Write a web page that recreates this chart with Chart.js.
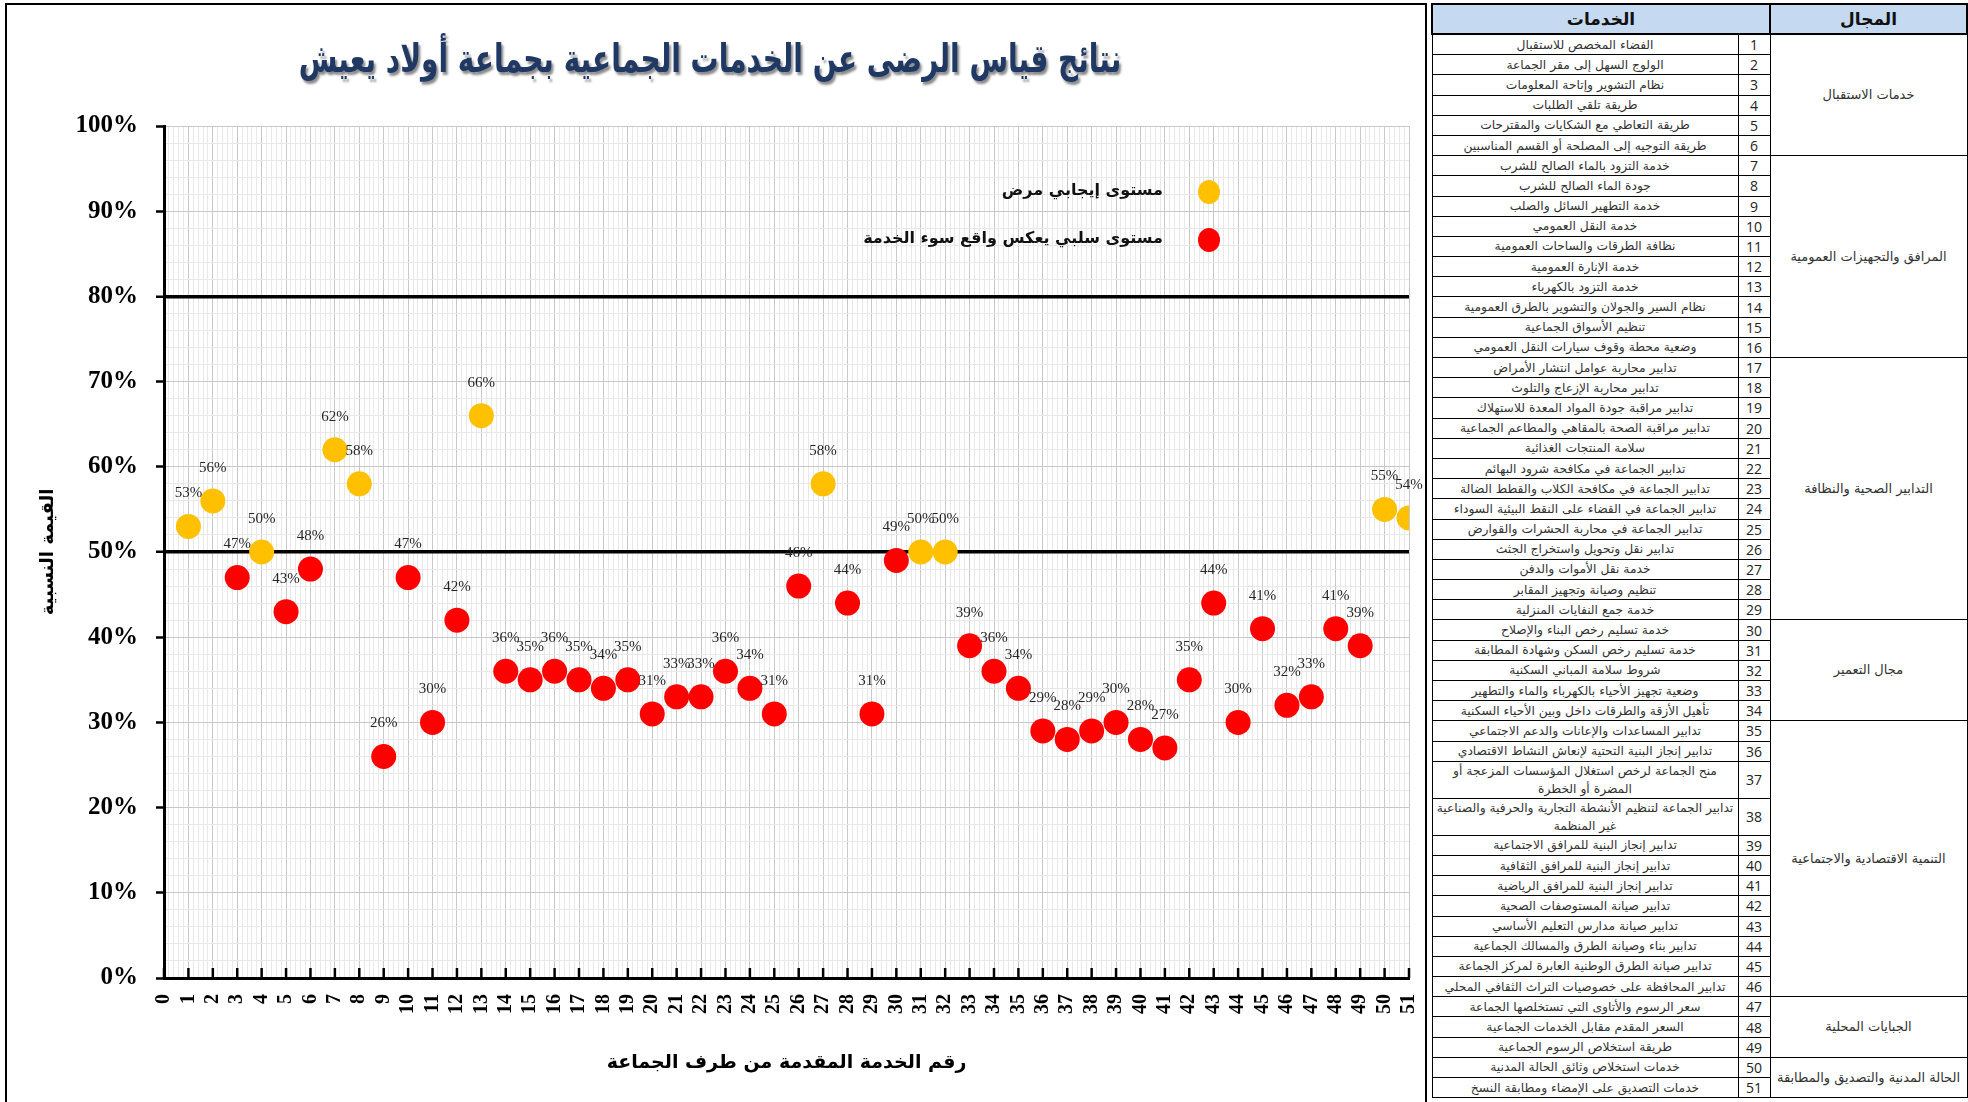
<!DOCTYPE html>
<html lang="ar">
<head>
<meta charset="utf-8">
<script src="https://cdn.jsdelivr.net/npm/chart.js@4.4.1/dist/chart.umd.min.js"></script>
<style>
  html, body { margin: 0; padding: 0; background: #fff; }
  body { width: 1968px; height: 1102px; position: relative; overflow: hidden; font-family: "DejaVu Sans", sans-serif; }
  #frame { position: absolute; left: 5px; top: 3px; width: 1422px; height: 1110px; border: 2px solid #000; box-sizing: border-box; }
  #chartBox { position: absolute; left: 0; top: 0; width: 1449px; height: 1102px; }
  #title { position: absolute; left: 160px; width: 1100px; top: 42px; text-align: center; direction: rtl; white-space: nowrap;
    font: bold 28px "DejaVu Sans", sans-serif; color: #1F3864; text-shadow: 2px 2px 2px #8a8a8a; transform: scaleY(1.4); }
  .leg { position: absolute; direction: rtl; font: bold 16px "DejaVu Sans", sans-serif; color: #111; white-space: nowrap; }
  .dot { position: absolute; width: 22px; height: 24px; border-radius: 50%; }
  #table { position: absolute; left: 1431px; top: 3px; width: 535px; border-collapse: collapse; table-layout: fixed; direction: rtl; z-index: 2; background: #fff; }
  #table th { background: #C5D9F1; font: bold 17px "DejaVu Sans", sans-serif; height: 28px; border: 2px solid #000; padding: 0; color: #111; }
  #table td { border: 1px solid #000; padding: 0 2px; text-align: center; height: 19.2px; line-height: 18px; color: #333; }
  #table td.svc { font-size: 12.3px; }
  #table td.num { font: 14px "Open Sans", sans-serif; color: #222; }
  #table td.dom { font-size: 13px; background: #fff; }
</style>
</head>
<body>
<div id="frame"></div>
<div id="chartBox"><canvas id="chart"></canvas></div>
<div id="title">نتائج قياس الرضى عن الخدمات الجماعية بجماعة أولاد يعيش</div>
<div id="legend"></div>
<table id="table"></table>

<script>
// VALUES (percent) FOR SERVICES 1..51
const serviceNumbers = [1,2,3,4,5,6,7,8,9,10,11,12,13,14,15,16,17,18,19,20,21,22,23,24,25,26,
  27,28,29,30,31,32,33,34,35,36,37,38,39,40,41,42,43,44,45,46,47,48,49,50,51];
const satisfaction = [53,56,47,50,43,48,62,58,26,47,30,42,66,36,35,36,35,34,35,31,33,33,36,34,31,46,
  58,44,31,49,50,50,39,36,34,29,28,29,30,28,27,35,44,30,41,32,33,41,39,55,54];
const threshold = 50;
const seriesNames = ['مستوى إيجابي مرض', 'مستوى سلبي يعكس واقع سوء الخدمة'];
const seriesColors = ['#FFC000', '#FF0000'];
const xTitle = 'رقم الخدمة المقدمة من طرف الجماعة';
const yTitle = 'القيمة النسبية';
const refLines = [50, 80];

// TABLE DATA
const domainNames = ['خدمات الاستقبال', 'المرافق والتجهيزات العمومية', 'التدابير الصحية والنظافة',
  'مجال التعمير', 'التنمية الاقتصادية والاجتماعية', 'الجبايات المحلية', 'الحالة المدنية والتصديق والمطابقة'];
const domainSizes = [6, 10, 13, 5, 12, 3, 2];
const services = [
  'الفضاء المخصص للاستقبال',
  'الولوج السهل إلى مقر الجماعة',
  'نظام التشوير وإتاحة المعلومات',
  'طريقة تلقي الطلبات',
  'طريقة التعاطي مع الشكايات والمقترحات',
  'طريقة التوجيه إلى المصلحة أو القسم المناسبين',
  'خدمة التزود بالماء الصالح للشرب',
  'جودة الماء الصالح للشرب',
  'خدمة التطهير السائل والصلب',
  'خدمة النقل العمومي',
  'نظافة الطرقات والساحات العمومية',
  'خدمة الإنارة العمومية',
  'خدمة التزود بالكهرباء',
  'نظام السير والجولان والتشوير بالطرق العمومية',
  'تنظيم الأسواق الجماعية',
  'وضعية محطة وقوف سيارات النقل العمومي',
  'تدابير محاربة عوامل انتشار الأمراض',
  'تدابير محاربة الإزعاج والتلوث',
  'تدابير مراقبة جودة المواد المعدة للاستهلاك',
  'تدابير مراقبة الصحة بالمقاهي والمطاعم الجماعية',
  'سلامة المنتجات الغذائية',
  'تدابير الجماعة في مكافحة شرود البهائم',
  'تدابير الجماعة في مكافحة الكلاب والقطط الضالة',
  'تدابير الجماعة في القضاء على النقط البيئية السوداء',
  'تدابير الجماعة في محاربة الحشرات والقوارض',
  'تدابير نقل وتحويل واستخراج الجثث',
  'خدمة نقل الأموات والدفن',
  'تنظيم وصيانة وتجهيز المقابر',
  'خدمة جمع النفايات المنزلية',
  'خدمة تسليم رخص البناء والإصلاح',
  'خدمة تسليم رخص السكن وشهادة المطابقة',
  'شروط سلامة المباني السكنية',
  'وضعية تجهيز الأحياء بالكهرباء والماء والتطهير',
  'تأهيل الأزقة والطرقات داخل وبين الأحياء السكنية',
  'تدابير المساعدات والإعانات والدعم الاجتماعي',
  'تدابير إنجاز البنية التحتية لإنعاش النشاط الاقتصادي',
  'منح الجماعة لرخص استغلال المؤسسات المزعجة أو المضرة أو الخطرة',
  'تدابير الجماعة لتنظيم الأنشطة التجارية والحرفية والصناعية غير المنظمة',
  'تدابير إنجاز البنية للمرافق الاجتماعية',
  'تدابير إنجاز البنية للمرافق الثقافية',
  'تدابير إنجاز البنية للمرافق الرياضية',
  'تدابير صيانة المستوصفات الصحية',
  'تدابير صيانة مدارس التعليم الأساسي',
  'تدابير بناء وصيانة الطرق والمسالك الجماعية',
  'تدابير صيانة الطرق الوطنية العابرة لمركز الجماعة',
  'تدابير المحافظة على خصوصيات التراث الثقافي المحلي',
  'سعر الرسوم والأتاوى التي تستخلصها الجماعة',
  'السعر المقدم مقابل الخدمات الجماعية',
  'طريقة استخلاص الرسوم الجماعية',
  'خدمات استخلاص وثائق الحالة المدنية',
  'خدمات التصديق على الإمضاء ومطابقة النسخ'
];

//BUILD THE TABLE
function buildTable() {
  const table = document.getElementById('table');
  let html = '<colgroup><col style="width:197px"><col style="width:32px"><col style="width:306px"></colgroup>';
  html += '<tr><th>المجال</th><th colspan="2">الخدمات</th></tr>';
  let starts = {};
  let acc = 0;
  domainSizes.forEach((n, k) => { starts[acc] = k; acc += n; });
  services.forEach((name, i) => {
    html += '<tr>';
    if (starts[i] !== undefined) {
      const k = starts[i];
      html += `<td class="dom" rowspan="${domainSizes[k]}">${domainNames[k]}</td>`;
    }
    html += `<td class="num">${serviceNumbers[i]}</td><td class="svc">${name}</td></tr>`;
  });
  table.innerHTML = html;
}

//BUILD THE LEGEND BOX
function buildLegend() {
  const box = document.getElementById('legend');
  const rows = [192, 240];
  seriesNames.forEach((name, i) => {
    const d = document.createElement('div');
    d.className = 'leg';
    d.style.right = (1968 - 1163) + 'px';
    d.style.top = (rows[i] - 12) + 'px';
    d.textContent = name;
    box.appendChild(d);
    const dot = document.createElement('span');
    dot.className = 'dot';
    dot.style.left = '1198px';
    dot.style.top = (rows[i] - 12) + 'px';
    dot.style.background = seriesColors[i];
    box.appendChild(dot);
  });
}

const isWhole = (v) => Math.abs(v - Math.round(v)) < 1e-6;

//DATA LABELS ABOVE THE POINTS
const pointLabels = {
  id: 'pointLabels',
  afterDatasetsDraw(chart) {
    const ctx = chart.ctx;
    ctx.save();
    ctx.font = '15px "Liberation Serif", serif';
    ctx.fillStyle = '#262626';
    ctx.textAlign = 'center';
    ctx.textBaseline = 'middle';
    chart.data.datasets.forEach((ds, di) => {
      chart.getDatasetMeta(di).data.forEach((el, i) => {
        ctx.fillText(ds.data[i].y + '%', el.x, el.y - 33);
      });
    });
    ctx.restore();
  }
};

//INNER TICK MARKS ON THE X AXIS
const innerTicks = {
  id: 'innerTicks',
  afterDraw(chart) {
    const sx = chart.scales.x;
    const ctx = chart.ctx;
    const bottom = chart.chartArea.bottom;
    ctx.save();
    ctx.strokeStyle = '#000';
    ctx.lineWidth = 2.5;
    sx.ticks.forEach(t => {
      if (!isWhole(t.value)) return;
      const px = sx.getPixelForValue(t.value);
      ctx.beginPath();
      ctx.moveTo(px, bottom);
      ctx.lineTo(px, bottom - 10);
      ctx.stroke();
    });
    ctx.restore();
  }
};

function handleScatter() {
  const pos = [], neg = [];
  satisfaction.forEach((v, i) => {
    const p = { x: serviceNumbers[i], y: v };
    if (v >= threshold) pos.push(p); else neg.push(p);
  });

  new Chart(document.getElementById('chart'), {
    type: 'scatter',
    data: {
      datasets: [
        { label: seriesNames[0], data: pos, backgroundColor: seriesColors[0], borderWidth: 0, pointRadius: 12.5, pointHoverRadius: 12.5 },
        { label: seriesNames[1], data: neg, backgroundColor: seriesColors[1], borderWidth: 0, pointRadius: 12.5, pointHoverRadius: 12.5 }
      ]
    },
    options: {
      responsive: false,
      animation: false,
      events: [],
      layout: { padding: { left: 0, right: 0, top: 126, bottom: 10 } },
      plugins: { legend: { display: false }, tooltip: { enabled: false } },
      scales: {
        x: {
          type: 'linear', min: 0, max: 51,
          afterFit: (s) => { s.height = 114; },
          border: { color: '#000', width: 3 },
          grid: {
            drawTicks: false,
            color: (c) => isWhole(c.tick.value) ? '#c8c8c8' : '#e8e8e8',
            lineWidth: 1
          },
          ticks: {
            stepSize: 0.2, autoSkip: false, minRotation: 90, maxRotation: 90, padding: 16,
            color: '#000', font: { family: '"Liberation Serif", serif', size: 20, weight: 'bold' },
            callback: (v) => isWhole(v) ? String(Math.round(v)) : ''
          },
          title: { display: true, text: xTitle, color: '#000', padding: { bottom: 18 },
            font: { family: '"DejaVu Sans", sans-serif', size: 19, weight: 'bold' } }
        },
        y: {
          min: 0, max: 100,
          afterFit: (s) => { s.width = 164; },
          border: { color: '#000', width: 3 },
          grid: {
            tickLength: 8,
            tickWidth: 2.5,
            tickColor: (c) => c.tick.value % 10 === 0 ? '#000' : 'rgba(0,0,0,0)',
            color: (c) => refLines.includes(c.tick.value) ? '#000'
              : (c.tick.value % 10 === 0 ? '#c8c8c8' : '#e8e8e8'),
            lineWidth: (c) => refLines.includes(c.tick.value) ? 3.5 : 1
          },
          ticks: {
            stepSize: 2, autoSkip: false, padding: 18, color: '#000',
            font: { family: '"Liberation Serif", serif', size: 25, weight: 'bold' },
            callback: (v) => v % 10 === 0 ? v + '%' : ''
          },
          title: { display: true, text: yTitle, color: '#000', padding: { top: 38 },
            font: { family: '"DejaVu Sans", sans-serif', size: 18, weight: 'bold' } }
        }
      }
    },
    plugins: [pointLabels, innerTicks]
  });
}

document.addEventListener('DOMContentLoaded', () => {
  const cv = document.getElementById('chart');
  cv.width = 1449;
  cv.height = 1102;
  buildTable();
  buildLegend();
  handleScatter();
});
</script>
</body>
</html>
